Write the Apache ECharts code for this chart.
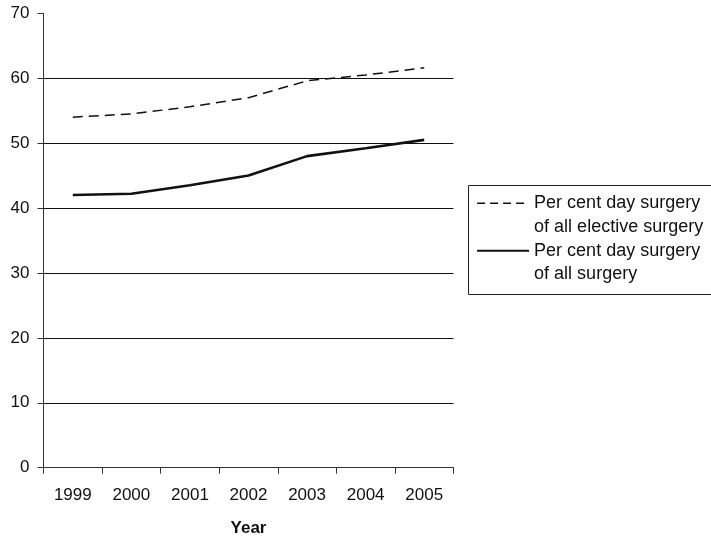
<!DOCTYPE html>
<html>
<head>
<meta charset="utf-8">
<script src="https://cdn.jsdelivr.net/npm/echarts@6/dist/echarts.min.js"></script>
<style>
  html, body { margin: 0; padding: 0; background: #fff; }
  #chart { width: 711px; height: 538px; }
</style>
</head>
<body>
<div id="chart"></div>
<script>
// Day surgery share, 1999-2005
const years = ['1999', '2000', '2001', '2002', '2003', '2004', '2005'];
const electiveShare = [54.0, 54.5, 55.6, 57.0, 59.6, 60.5, 61.6];
const allSurgeryShare = [42.0, 42.2, 43.5, 45.0, 48.0, 49.2, 50.5];
const seriesNames = [
  'Per cent day surgery\nof all elective surgery',
  'Per cent day surgery\nof all surgery'
];
const yMin = 0, yMax = 70, yStep = 10;

const FONT = 'Liberation Sans, Arial, sans-serif';
const INK = '#111';

const chart = echarts.init(document.getElementById('chart'), null, { renderer: 'canvas' });

chart.setOption({
  animation: false,
  backgroundColor: '#fff',
  grid: {
    left: 43.5, right: 257.5, top: 13.3, bottom: 70.3,
    containLabel: false,
    outerBoundsMode: 'none'
  },
  xAxis: {
    type: 'category',
    data: years,
    boundaryGap: true,
    name: 'Year',
    nameLocation: 'middle',
    nameGap: 52,
    nameTextStyle: { fontFamily: FONT, fontSize: 17, fontWeight: 'bold', color: INK },
    axisLine: { lineStyle: { color: '#333', width: 1 } },
    axisTick: { show: true, length: 6, alignWithLabel: false, lineStyle: { color: '#333' } },
    axisLabel: { fontFamily: FONT, fontSize: 17, color: INK, margin: 19 },
    splitLine: { show: false }
  },
  yAxis: {
    type: 'value',
    min: yMin, max: yMax, interval: yStep,
    axisLine: { show: true, lineStyle: { color: '#333', width: 1 } },
    axisTick: { show: true, length: 6, lineStyle: { color: '#333' } },
    axisLabel: { fontFamily: FONT, fontSize: 17, color: INK, margin: 14 },
    splitLine: { show: true, showMaxLine: false, lineStyle: { color: '#111', width: 1 } }
  },
  legend: {
    orient: 'vertical',
    left: 476,
    top: 168,
    padding: 0,
    itemGap: -23,
    itemWidth: 52,
    itemHeight: 14,
    itemStyle: { opacity: 0 },
    data: [
      { name: seriesNames[0], lineStyle: { type: [8, 5], width: 1.5 } },
      { name: seriesNames[1], lineStyle: { width: 2.2 } }
    ],
    textStyle: { fontFamily: FONT, fontSize: 18, color: INK, lineHeight: 23.5 },
    formatter: function (name) { return '\n' + name; }
  },
  graphic: [{
    type: 'rect',
    shape: { x: 468.5, y: 185.5, width: 260, height: 109 },
    style: { fill: 'none', stroke: '#222', lineWidth: 1 },
    silent: true,
    z: 100
  }],
  series: [
    {
      name: seriesNames[0],
      type: 'line',
      data: electiveShare,
      symbol: 'none',
      showSymbol: false,
      lineStyle: { color: '#111', width: 1.5, type: [10, 6] },
      itemStyle: { color: '#111' }
    },
    {
      name: seriesNames[1],
      type: 'line',
      data: allSurgeryShare,
      symbol: 'none',
      showSymbol: false,
      lineStyle: { color: '#111', width: 2.6, type: 'solid' },
      itemStyle: { color: '#111' }
    }
  ]
});
</script>
</body>
</html>
